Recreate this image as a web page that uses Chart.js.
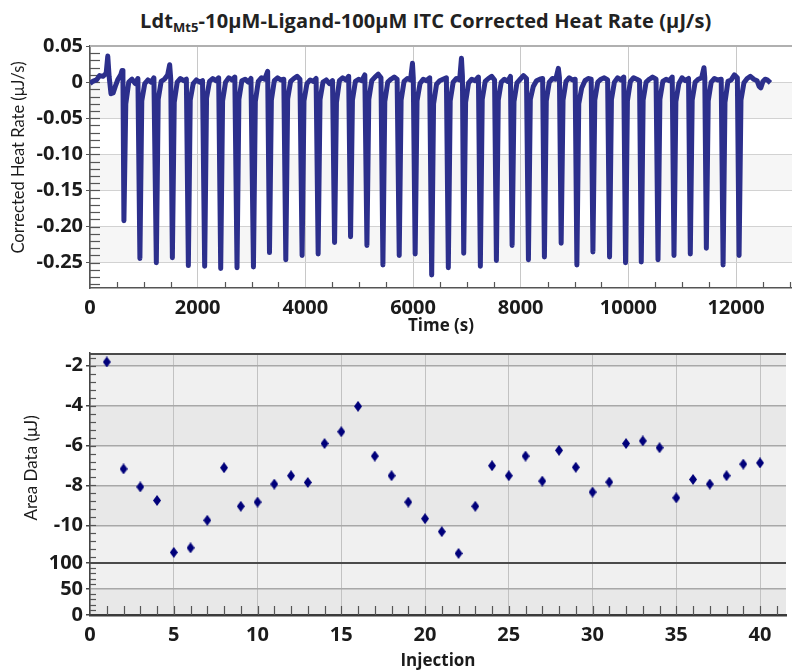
<!DOCTYPE html>
<html>
<head>
<meta charset="UTF-8">
<title>ITC Corrected Heat Rate</title>
<script src="https://cdn.jsdelivr.net/npm/chart.js"></script>
<style>
  body { margin:0; background:#fff; width:792px; height:670px; overflow:hidden; position:relative; }
  #title { position:absolute; left:140px; top:7px; font-family:"Open Sans", sans-serif; font-weight:bold; font-size:20px; color:#222; white-space:nowrap; letter-spacing:0.1px; }
  #title sub { font-size:13px; vertical-align:-4px; line-height:0; }
  #topBox { position:absolute; left:0; top:30px; }
  #botBox { position:absolute; left:0; top:338px; }
</style>
</head>
<body>
<div id="title">Ldt<sub>Mt5</sub>-10μM-Ligand-100μM ITC Corrected Heat Rate (μJ/s)</div>
<div id="topBox"><canvas id="topChart" width="792" height="310"></canvas></div>
<div id="botBox"><canvas id="botChart" width="792" height="332"></canvas></div>

<script>
Chart.defaults.animation = false;

// ---- top panel: corrected heat rate trace ----
// injection peaks (time in s, lowest value in µJ/s, value ~45 s later on the way back)
const injTime = [620, 917, 1222, 1520, 1817, 2120, 2418, 2721, 3026, 3324, 3627, 3930, 4228,
                 4533, 4830, 5134, 5431, 5734, 6030, 6337, 6646, 6932, 7241, 7539, 7831, 8134,
                 8431, 8742, 9034, 9332, 9641, 9938, 10230, 10541, 10838, 11141, 11439, 11750, 12047];
const injMin = [-0.192, -0.244, -0.250, -0.243, -0.254, -0.255, -0.258, -0.257, -0.256, -0.236,
                -0.246, -0.240, -0.238, -0.222, -0.214, -0.226, -0.253, -0.240, -0.238, -0.267,
                -0.257, -0.237, -0.255, -0.247, -0.226, -0.246, -0.242, -0.223, -0.253, -0.235,
                -0.242, -0.250, -0.249, -0.246, -0.240, -0.238, -0.230, -0.253, -0.240];
const injTail = [-0.030, -0.026, -0.024, -0.028, -0.025, -0.022, -0.026, -0.024, -0.027, -0.025,
                 -0.023, -0.026, -0.024, -0.028, -0.025, -0.024, -0.027, -0.025, -0.026, -0.030,
                 -0.026, -0.028, -0.024, -0.025, -0.027, -0.024, -0.026, -0.025, -0.030, -0.025,
                 -0.024, -0.026, -0.025, -0.024, -0.027, -0.025, -0.026, -0.028, -0.025];

// baseline between the injections
const baseTime = [0, 50, 120, 180, 240, 300, 330, 355, 390, 430, 470, 520, 570, 595, 612,
  720, 780, 840, 890,  1017, 1077, 1137, 1187,  1322, 1382, 1442, 1480, 1500,
  1620, 1680, 1740, 1790,  1917, 1977, 2037, 2090,  2220, 2280, 2340, 2390,
  2518, 2578, 2638, 2690,  2821, 2881, 2941, 2990,  3126, 3186, 3246, 3300,
  3424, 3484, 3544, 3600,  3727, 3787, 3847, 3900,  4030, 4090, 4150, 4200,
  4328, 4388, 4448, 4505,  4633, 4693, 4753, 4805,  4930, 4990, 5050, 5105,
  5234, 5294, 5354, 5405,  5531, 5591, 5651, 5705,  5834, 5894, 5954, 5990, 6005,
  6130, 6190, 6250, 6310,  6437, 6497, 6557, 6620,  6746, 6806, 6866, 6900, 6918,
  7032, 7092, 7152, 7215,  7341, 7401, 7461, 7515,  7639, 7699, 7759, 7810,
  7931, 7991, 8051, 8108,  8234, 8294, 8354, 8408,  8531, 8591, 8651, 8700, 8720,
  8842, 8902, 8962, 9012,  9134, 9194, 9254, 9310,  9432, 9492, 9552, 9615,
  9741, 9801, 9861, 9915,  10038, 10098, 10158, 10208,  10330, 10390, 10450, 10515,
  10641, 10701, 10761, 10815,  10938, 10998, 11058, 11118,  11241, 11301, 11361, 11405, 11420,
  11539, 11599, 11659, 11725,  11850, 11910, 11970, 12025,
  12147, 12207, 12267, 12330, 12390, 12430, 12460, 12500, 12540, 12580, 12640];
const baseRate = [-0.002, 0.001, 0.003, 0.009, 0.008, 0.012, 0.036, 0.008, -0.016, -0.015, -0.006, 0.004, 0.010, 0.016, 0.006,
  0.000, 0.004, -0.002, 0.005,  -0.002, 0.003, 0.000, 0.006,  0.001, 0.004, 0.010, 0.024, 0.004,
  0.000, 0.005, 0.002, 0.004,  -0.002, 0.003, 0.000, 0.002,  0.001, 0.005, 0.002, 0.006,
  0.000, 0.006, 0.003, 0.007,  0.002, 0.004, 0.000, 0.005,  0.001, 0.006, 0.004, 0.015,
  0.002, 0.006, 0.003, 0.004,  0.001, 0.005, 0.008, 0.004,  -0.002, 0.003, 0.001, 0.005,
  0.000, 0.003, -0.002, 0.002,  0.002, 0.006, 0.003, 0.008,  0.001, 0.004, 0.002, 0.010,
  0.002, 0.007, 0.011, 0.006,  0.000, 0.004, 0.007, 0.004,  0.001, 0.005, 0.003, 0.026, 0.006,
  -0.002, 0.004, 0.002, 0.006,  -0.003, 0.002, 0.004, 0.006,  0.000, 0.005, 0.003, 0.033, 0.008,
  -0.001, 0.004, 0.002, 0.007,  0.001, 0.005, 0.008, 0.003,  0.000, 0.004, 0.001, 0.008,
  -0.001, 0.004, 0.009, 0.005,  -0.006, 0.002, 0.004, 0.005,  0.000, 0.005, 0.004, 0.019, 0.006,
  0.001, 0.006, 0.003, 0.004,  -0.008, 0.002, 0.005, 0.004,  0.000, 0.004, 0.006, 0.003,
  0.000, 0.006, 0.003, 0.007,  0.001, 0.006, 0.004, 0.002,  0.000, 0.004, 0.007, 0.004,
  0.001, 0.004, 0.002, 0.007,  -0.002, 0.006, 0.002, 0.005,  0.000, 0.004, 0.006, 0.020, 0.006,
  0.000, 0.005, 0.003, 0.004,  0.001, 0.003, 0.010, 0.006,
  -0.001, 0.005, 0.008, 0.004, 0.002, -0.006, -0.008, 0.001, 0.004, 0.003, -0.001];

const timeTicks = [0, 2000, 4000, 6000, 8000, 10000, 12000];
const rateTicks = [0.05, 0, -0.05, -0.10, -0.15, -0.20, -0.25];
const rateTickText = ['0.05', '0', '-0.05', '-0.10', '-0.15', '-0.20', '-0.25'];

// ---- bottom panel: integrated areas ----
const injNo = [1,2,3,4,5,6,7,8,9,10,11,12,13,14,15,16,17,18,19,20,
               21,22,23,24,25,26,27,28,29,30,31,32,33,34,35,36,37,38,39,40];
const areaData = [-1.82, -7.17, -8.07, -8.75, -11.35, -11.12, -9.74, -7.11, -9.04, -8.83,
                  -7.93, -7.51, -7.85, -5.90, -5.31, -4.04, -6.53, -7.51, -8.83, -9.66,
                  -10.31, -11.40, -9.04, -7.01, -7.51, -6.53, -7.78, -6.24, -7.09, -8.33,
                  -7.83, -5.90, -5.77, -6.11, -8.62, -7.70, -7.93, -7.51, -6.93, -6.87];
const injTicks = [0, 5, 10, 15, 20, 25, 30, 35, 40];
const areaTicks = [-2, -4, -6, -8, -10];
const lowTicks = [0, 50, 100];

// build trace points
const trace = baseTime.map((t, i) => ({x: t, y: baseRate[i]}));
injTime.forEach((t, i) => {
  trace.push({x: t + 10, y: injMin[i]});
  trace.push({x: t + 45, y: injTail[i]});
});
trace.sort((a, b) => a.x - b.x);

const tickFont = {family: 'Open Sans', size: 20, weight: 'bold'};
const ink = '#1b1b1b';

function hLine(ctx, x1, x2, y, color, w) {
  ctx.strokeStyle = color; ctx.lineWidth = w;
  ctx.beginPath(); ctx.moveTo(x1, y); ctx.lineTo(x2, y); ctx.stroke();
}

const topDecor = {
  id: 'topDecor',
  beforeDraw(chart) {
    const {ctx, chartArea: a, scales: {y}} = chart;
    ctx.save();
    const edges = [0.05, 0, -0.05, -0.10, -0.15, -0.20, -0.25, -0.285];
    for (let i = 0; i < edges.length - 1; i++) {
      ctx.fillStyle = i % 2 ? '#f6f6f6' : '#ffffff';
      const y1 = y.getPixelForValue(edges[i]), y2 = y.getPixelForValue(edges[i + 1]);
      ctx.fillRect(a.left, y1, a.right - a.left, y2 - y1);
    }
    ctx.restore();
  },
  beforeDatasetsDraw(chart) {
    const {ctx, chartArea: a, scales: {x, y}} = chart;
    ctx.save();
    hLine(ctx, a.left, a.right, a.top, '#b0b0b0', 2);
    ctx.strokeStyle = '#555'; ctx.lineWidth = 1.2;
    for (let v = 0.04; v > -0.285; v -= 0.01) {
      const p = Math.round(y.getPixelForValue(v)) + 0.5;
      ctx.beginPath(); ctx.moveTo(a.left, p); ctx.lineTo(a.left + 10, p); ctx.stroke();
    }
    for (let v = 500; v < 13040; v += 500) {
      if (v % 2000 === 0) continue;
      const p = Math.round(x.getPixelForValue(v)) + 0.5;
      ctx.beginPath(); ctx.moveTo(p, a.bottom); ctx.lineTo(p, a.bottom - 6); ctx.stroke();
    }
    ctx.restore();
  }
};

new Chart(document.getElementById('topChart'), {
  type: 'line',
  data: { datasets: [{ data: trace, borderColor: '#2c2f8c', borderWidth: 5, pointRadius: 0,
                       borderJoinStyle: 'round', tension: 0 }] },
  options: {
    responsive: false,
    layout: { padding: { top: 16, left: 0, right: 0, bottom: 0 } },
    plugins: { legend: { display: false }, tooltip: { enabled: false } },
    scales: {
      x: {
        type: 'linear', min: 0, max: 13040,
        afterBuildTicks: s => { s.ticks = timeTicks.map(v => ({value: v})); },
        afterFit: s => { s.height = 52; },
        grid: { color: '#c8c8c8', lineWidth: 1, drawTicks: false },
        border: { color: '#555', width: 1.5 },
        ticks: { padding: 8, font: tickFont, color: ink, maxRotation: 0, autoSkip: false,
                 callback: v => String(v) },
        title: { display: true, text: 'Time (s)', color: ink,
                 font: {family: 'Open Sans', size: 17, weight: 'bold', lineHeight: 1}, padding: {top: 0, bottom: 5} }
      },
      y: {
        min: -0.285, max: 0.05,
        afterBuildTicks: s => { s.ticks = rateTicks.map(v => ({value: v})); },
        afterFit: s => { s.width = 90; },
        grid: { color: '#d2d2d2', lineWidth: 1, tickColor: '#555', tickLength: 4 },
        border: { color: '#555', width: 1.5 },
        ticks: { padding: 3, font: tickFont, color: ink, autoSkip: false,
                 callback: (v, i) => rateTickText[i] },
        title: { display: true, text: '\u2007\u2007Corrected Heat Rate (μJ/s)', color: ink,
                 font: {family: 'Lato', size: 16.5, lineHeight: 1}, padding: {top: 10, bottom: 0} }
      }
    }
  },
  plugins: [topDecor]
});

// elongated diamond marker
const dia = document.createElement('canvas');
dia.width = 8; dia.height = 11;
const dc = dia.getContext('2d');
dc.fillStyle = '#00007a';
dc.beginPath(); dc.moveTo(4, 0); dc.lineTo(8, 5.5); dc.lineTo(4, 11); dc.lineTo(0, 5.5); dc.closePath(); dc.fill();

const botDecor = {
  id: 'botDecor',
  beforeDraw(chart) {
    const {ctx, chartArea: a, scales: {yTop, yBot}} = chart;
    ctx.save();
    const cuts = [a.top, yTop.getPixelForValue(-2), yTop.getPixelForValue(-4), yTop.getPixelForValue(-6),
                  yTop.getPixelForValue(-8), yTop.getPixelForValue(-10), yBot.getPixelForValue(100),
                  yBot.getPixelForValue(50), a.bottom];
    const fills = ['#e8e8e8', '#f0f0f0', '#e8e8e8', '#f0f0f0', '#e8e8e8', '#f0f0f0', '#f0f0f0', '#e8e8e8'];
    for (let i = 0; i < fills.length; i++) {
      ctx.fillStyle = fills[i];
      ctx.fillRect(a.left, cuts[i], a.right - a.left, cuts[i + 1] - cuts[i]);
    }
    ctx.restore();
  },
  beforeDatasetsDraw(chart) {
    const {ctx, chartArea: a, scales: {x, yTop, yBot}} = chart;
    ctx.save();
    hLine(ctx, a.left, a.right, a.top + 1, '#4a4a4a', 2);
    hLine(ctx, a.left, a.right, yBot.getPixelForValue(100), '#4a4a4a', 2);
    ctx.strokeStyle = '#555'; ctx.lineWidth = 1.2;
    for (let v = -1.6; v > -11.88; v -= 0.4) {
      const p = Math.round(yTop.getPixelForValue(v)) + 0.5;
      ctx.beginPath(); ctx.moveTo(a.left, p); ctx.lineTo(a.left + 6, p); ctx.stroke();
    }
    for (let v = 10; v < 100; v += 10) {
      if (v === 50) continue;
      const p = Math.round(yBot.getPixelForValue(v)) + 0.5;
      ctx.beginPath(); ctx.moveTo(a.left, p); ctx.lineTo(a.left + 6, p); ctx.stroke();
    }
    for (let v = 1; v < 42; v++) {
      const p = Math.round(x.getPixelForValue(v)) + 0.5;
      ctx.beginPath(); ctx.moveTo(p, a.bottom); ctx.lineTo(p, a.bottom - 9); ctx.stroke();
    }
    ctx.restore();
  }
};

const leftTicks = (vals) => ({
  afterBuildTicks: s => { s.ticks = vals.map(v => ({value: v})); },
  afterFit: s => { s.width = 90; },
  grid: { color: '#a8a8a8', lineWidth: 1.5, tickColor: '#444', tickLength: 4 },
  border: { color: '#444', width: 1.5 },
  ticks: { padding: 3, font: tickFont, color: ink, autoSkip: false, callback: v => String(v) }
});

new Chart(document.getElementById('botChart'), {
  type: 'scatter',
  data: { datasets: [{ data: injNo.map((n, i) => ({x: n, y: areaData[i]})), yAxisID: 'yTop',
                       pointStyle: dia, pointRadius: 5 }] },
  options: {
    responsive: false,
    layout: { padding: { top: 4, left: 0, right: 0, bottom: 0 } },
    plugins: { legend: { display: false }, tooltip: { enabled: false } },
    scales: {
      x: {
        type: 'linear', min: 0, max: 41.55,
        afterBuildTicks: s => { s.ticks = injTicks.map(v => ({value: v})); },
        afterFit: s => { s.height = 55; },
        grid: { color: '#c2c2c2', lineWidth: 1, drawTicks: false },
        border: { color: '#3a3a3a', width: 2.5 },
        ticks: { padding: 8, font: tickFont, color: ink, maxRotation: 0, autoSkip: false,
                 callback: v => String(v) },
        title: { display: true, text: 'Injection', color: ink,
                 font: {family: 'Open Sans', size: 17, weight: 'bold', lineHeight: 1}, padding: {top: 0, bottom: 0} }
      },
      yBot: Object.assign(leftTicks(lowTicks), {
        type: 'linear', position: 'left', stack: 'area', stackWeight: 1, min: 0, max: 100
      }),
      yTop: Object.assign(leftTicks(areaTicks), {
        type: 'linear', position: 'left', stack: 'area', stackWeight: 4.04, min: -11.88, max: -1.37,
        title: { display: true, text: 'Area Data (μJ)\u2007\u2007', color: ink,
                 font: {family: 'Lato', size: 17, lineHeight: 1}, padding: {top: 23, bottom: 0} }
      })
    }
  },
  plugins: [botDecor]
});
</script>
</body>
</html>
